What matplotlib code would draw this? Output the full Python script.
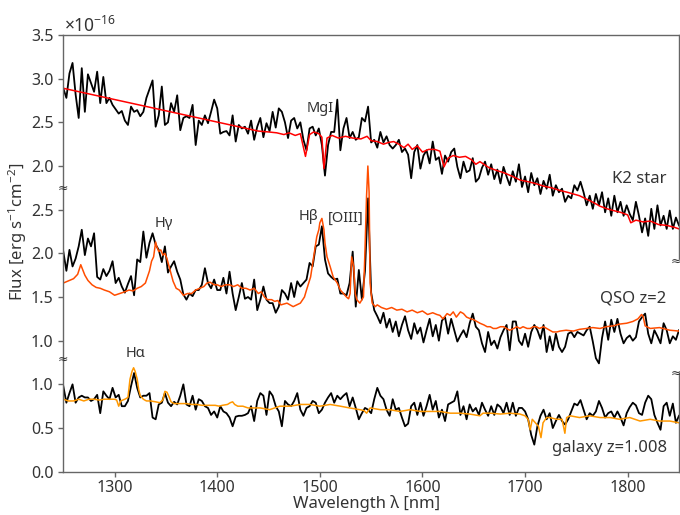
import numpy as np
import matplotlib
matplotlib.use("Agg")
import matplotlib.pyplot as plt

plt.rcParams['font.family'] = ['Noto Sans', 'DejaVu Sans']
plt.rcParams['mathtext.fontset'] = 'custom'
plt.rcParams['mathtext.rm'] = 'Noto Sans'
plt.rcParams['mathtext.it'] = 'Noto Sans:italic'
plt.rcParams['mathtext.bf'] = 'Noto Sans:bold'

# Observed spectra are sampled on a regular grid starting at LAM0 with step DLAM [nm]
LAM0, DLAM = 1250, 3

# ---- K2 star (flux in 1e-16 erg s^-1 cm^-2) ----
star_flux = [
    2.89, 2.78, 3.06, 3.18, 2.82, 2.55, 3.12, 2.62, 3.05, 2.95,
    2.85, 3.08, 2.72, 3.02, 2.72, 2.78, 2.70, 2.65, 2.60, 2.63,
    2.52, 2.47, 2.68, 2.62, 2.64, 2.57, 2.62, 2.78, 2.88, 2.98,
    2.45, 2.58, 2.91, 2.47, 2.50, 2.72, 2.62, 2.81, 2.41, 2.55,
    2.57, 2.55, 2.70, 2.24, 2.52, 2.47, 2.58, 2.49, 2.62, 2.76,
    2.66, 2.37, 2.39, 2.40, 2.35, 2.58, 2.28, 2.47, 2.43, 2.45,
    2.37, 2.52, 2.30, 2.45, 2.55, 2.33, 2.49, 2.40, 2.62, 2.44,
    2.66, 2.62, 2.50, 2.32, 2.52, 2.55, 2.43, 2.50, 2.30, 2.18,
    2.43, 2.45, 2.35, 2.43, 2.24, 1.89, 2.24, 2.39, 2.39, 2.76,
    2.18, 2.43, 2.55, 2.32, 2.39, 2.30, 2.33, 2.55, 2.51, 2.68,
    2.27, 2.30, 2.21, 2.39, 2.27, 2.34, 2.24, 2.20, 2.24, 2.30,
    2.16, 2.20, 2.13, 1.86, 2.16, 2.24, 1.97, 2.12, 2.18, 2.03,
    2.28, 2.07, 2.10, 1.91, 2.12, 2.05, 2.16, 2.20, 1.99, 1.86,
    2.05, 1.93, 1.95, 2.09, 1.82, 1.86, 1.98, 2.05, 1.90, 2.02,
    1.85, 1.96, 1.80, 1.99, 1.88, 1.78, 1.94, 1.82, 2.02, 1.76,
    1.88, 1.70, 1.92, 1.78, 1.86, 1.68, 1.83, 1.74, 1.90, 1.66,
    1.78, 1.70, 1.74, 1.59, 1.66, 1.63, 1.78, 1.72, 1.82, 1.70,
    1.55, 1.66, 1.51, 1.68, 1.55, 1.70, 1.47, 1.63, 1.43, 1.66,
    1.47, 1.59, 1.43, 1.55, 1.45, 1.38, 1.59, 1.43, 1.24, 1.40,
    1.20, 1.51, 1.28, 1.55, 1.32, 1.43, 1.28, 1.49, 1.28, 1.41,
    1.32,
]
star_model_wl = [
    1250, 1440, 1450, 1458, 1465, 1470, 1476, 1481, 1486, 1490,
    1494, 1499, 1502, 1504, 1507, 1512, 1518, 1525, 1532, 1540,
    1546, 1550, 1556, 1562, 1567, 1572, 1577, 1582, 1586, 1590,
    1595, 1600, 1606, 1612, 1617, 1621, 1625, 1630, 1636, 1642,
    1648, 1652, 1656, 1665, 1672, 1680, 1688, 1695, 1703, 1710,
    1718, 1726, 1734, 1741, 1747, 1753, 1760, 1767, 1773, 1780,
    1786, 1793, 1800, 1803, 1808, 1815, 1822, 1830, 1838, 1845,
    1850,
]
star_model = [
    2.89, 2.40, 2.39, 2.38, 2.36, 2.38, 2.35, 2.37, 2.11, 2.36,
    2.39, 2.37, 2.33, 1.97, 2.32, 2.35, 2.32, 2.34, 2.32, 2.31,
    2.34, 2.29, 2.28, 2.25, 2.27, 2.28, 2.25, 2.21, 2.25, 2.19,
    2.23, 2.16, 2.19, 2.19, 2.17, 1.99, 2.09, 2.12, 2.10, 2.11,
    2.07, 2.02, 2.05, 1.98, 1.95, 1.92, 1.88, 1.84, 1.82, 1.80,
    1.77, 1.75, 1.72, 1.70, 1.68, 1.66, 1.62, 1.58, 1.54, 1.51,
    1.49, 1.47, 1.44, 1.35, 1.38, 1.36, 1.37, 1.33, 1.32, 1.30,
    1.28,
]

# ---- QSO z=2 ----
qso_flux = [
    2.02, 1.80, 2.04, 1.85, 1.94, 2.08, 2.27, 1.98, 2.17, 2.08, 2.23, 1.73,
    1.70, 1.82, 1.74, 1.80, 1.91, 1.66, 1.72, 1.62, 1.55, 1.65,
    1.74, 1.52, 1.93, 1.90, 2.25, 1.95, 2.12, 2.23, 2.10, 2.04,
    1.90, 2.08, 1.78, 1.85, 1.91, 1.79, 1.70, 1.53, 1.47, 1.54,
    1.51, 1.58, 1.58, 1.64, 1.83, 1.66, 1.60, 1.70, 1.58, 1.58,
    1.72, 1.54, 1.79, 1.54, 1.35, 1.50, 1.66, 1.48, 1.50, 1.47,
    1.70, 1.35, 1.47, 1.62, 1.47, 1.43, 1.43, 1.32, 1.39,
    1.58, 1.54, 1.47, 1.66, 1.50, 1.68, 1.62, 1.66, 1.70, 1.89,
    1.85, 2.08, 2.10, 2.31, 1.93, 1.77, 1.73, 1.70, 1.71, 1.54,
    1.54, 1.52, 1.66, 2.02, 1.39, 1.81, 1.47, 1.80, 2.63, 1.55,
    1.35, 1.28, 1.20, 1.32, 1.15, 1.25, 1.10, 1.22, 1.05, 1.18,
    1.28, 1.12, 1.02, 1.20, 1.08, 1.15, 0.98, 1.12, 1.25, 1.05,
    1.18, 1.00,
    1.23, 1.27, 1.08, 1.25, 1.12, 0.99, 1.06, 1.12, 1.04, 1.20,
    1.31, 1.16, 1.12, 0.97, 0.87, 1.10, 0.95, 1.00, 0.91, 1.04,
    1.12, 1.18, 0.89, 1.22, 1.22, 1.00, 0.95, 1.08, 0.93, 1.10,
    1.18, 1.12, 1.02, 1.18, 0.87, 1.05, 0.89, 1.08, 0.93, 0.87,
    0.93, 1.08, 1.10, 1.04, 1.10, 1.08, 1.06, 1.12, 1.16, 0.99,
    0.80, 0.74, 1.03, 1.22, 1.01, 1.24, 1.10, 1.25, 1.08, 0.97,
    1.03, 1.06, 1.00, 1.04, 1.22, 1.27, 1.31, 1.08, 0.97, 1.12,
    1.05, 0.97, 1.20, 1.12, 0.97, 1.05, 1.01, 1.12,
]
qso_model_wl = [
    1250, 1256, 1260, 1264, 1267, 1269, 1271, 1274, 1278, 1282,
    1286, 1290, 1295, 1300, 1305, 1310, 1314, 1318, 1322, 1326,
    1330, 1334, 1336, 1338, 1340, 1341, 1343, 1345, 1347, 1349,
    1351, 1354, 1357, 1360, 1363, 1367, 1371, 1375, 1379, 1383,
    1387, 1390, 1393, 1397, 1400, 1404, 1408, 1412, 1416, 1420,
    1424, 1428, 1432, 1436, 1440, 1443, 1446, 1449, 1453, 1456,
    1459, 1462, 1468, 1474, 1481, 1485, 1487, 1491, 1494, 1497,
    1499, 1500, 1502, 1504, 1505, 1507, 1510, 1513, 1517, 1520,
    1523, 1526, 1528, 1529.5, 1531, 1533, 1534.5, 1536, 1539, 1542.5,
    1544, 1545.5, 1546.8, 1548, 1549, 1551, 1554, 1556, 1560, 1565,
    1570, 1575, 1580, 1585, 1590, 1595, 1600, 1605, 1610, 1614,
    1617, 1620, 1624, 1627, 1630, 1633, 1637, 1640, 1643, 1647,
    1650, 1653, 1656, 1660, 1663, 1666, 1669, 1672, 1676, 1679,
    1682, 1685, 1689, 1692, 1695, 1698, 1702, 1705, 1708, 1711,
    1714, 1718, 1721, 1724, 1727, 1731, 1734, 1740, 1747, 1753,
    1760, 1766, 1773, 1779, 1786, 1792, 1799, 1805, 1810, 1813.5,
    1815, 1817, 1822, 1831, 1841, 1850,
]
qso_model = [
    1.66, 1.69, 1.71, 1.76, 1.87, 1.81, 1.75, 1.69, 1.64, 1.61,
    1.60, 1.58, 1.56, 1.52, 1.54, 1.56, 1.58, 1.57, 1.60, 1.62,
    1.66, 1.80, 1.91, 1.96, 2.13, 2.08, 2.02, 2.04, 1.98, 2.00,
    1.94, 1.81, 1.68, 1.60, 1.58, 1.52, 1.54, 1.54, 1.58, 1.60,
    1.62, 1.66, 1.67, 1.64, 1.64, 1.62, 1.64, 1.64, 1.62, 1.64,
    1.60, 1.60, 1.58, 1.60, 1.54, 1.56, 1.50, 1.47, 1.47, 1.45,
    1.46, 1.41, 1.43, 1.39, 1.43, 1.50, 1.58, 1.73, 1.96, 2.19,
    2.27, 2.35, 2.40, 2.27, 2.12, 1.96, 1.85, 1.73, 1.66, 1.58,
    1.54, 1.50, 1.48, 1.54, 1.96, 1.85, 1.54, 1.47, 1.43, 1.50,
    2.04, 2.65, 3.00, 2.70, 1.66, 1.43, 1.39, 1.41, 1.38, 1.36,
    1.38, 1.35, 1.36, 1.33, 1.35, 1.32, 1.34, 1.30, 1.32, 1.30,
    1.29, 1.25, 1.31, 1.29, 1.33, 1.27, 1.33, 1.31, 1.27, 1.25,
    1.24, 1.22, 1.20, 1.18, 1.16, 1.16, 1.14, 1.14, 1.16, 1.16,
    1.14, 1.12, 1.14, 1.16, 1.14, 1.16, 1.14, 1.14, 1.16, 1.16,
    1.14, 1.16, 1.14, 1.12, 1.10, 1.10, 1.11, 1.12, 1.11, 1.13,
    1.14, 1.15, 1.14, 1.16, 1.17, 1.19, 1.20, 1.22, 1.25, 1.30,
    1.28, 1.17, 1.14, 1.15, 1.12, 1.11,
]

# ---- galaxy z=1.008 ----
gal_flux = [
    0.98, 0.79, 0.90, 1.00, 0.79, 0.85, 0.87, 0.85, 0.85, 0.81,
    0.83, 0.88, 0.67, 0.92, 0.87, 0.83, 0.96, 0.85, 0.88, 0.75,
    0.75, 0.81, 0.98, 1.13, 0.96, 0.85, 0.87, 0.87, 0.90, 0.62,
    0.60, 0.77, 0.79, 0.90, 0.79, 0.75, 0.80, 0.77, 0.87, 1.00,
    0.77, 0.75, 0.87, 0.71, 0.83, 0.81, 0.75, 0.73, 0.65, 0.69,
    0.62, 0.75, 0.69, 0.67, 0.62, 0.52, 0.63, 0.64, 0.64, 0.65,
    0.67,
    0.75, 0.58, 0.81, 0.90, 0.87, 0.65, 0.92, 0.87, 0.75, 0.69,
    0.52, 0.81, 0.77, 0.75, 0.81, 0.90, 0.71, 0.64, 0.73, 0.75,
    0.81, 0.79, 0.67, 0.71, 0.79, 0.85, 0.90, 0.79, 0.87, 0.83,
    0.87, 0.90, 0.75, 0.85, 0.73, 0.60, 0.67, 0.73, 0.71, 0.67,
    0.83, 0.96, 0.87, 0.83, 0.71, 0.64, 0.83, 0.71, 0.73, 0.62,
    0.52, 0.55, 0.75, 0.79, 0.65, 0.79, 0.64, 0.75, 0.88, 0.71,
    0.81, 0.62, 0.71, 0.58, 0.77, 0.79, 0.81, 0.92, 0.65, 0.75,
    0.60, 0.77, 0.69, 0.73, 0.65, 0.79, 0.71, 0.64, 0.75, 0.65,
    0.77, 0.74, 0.67, 0.79, 0.65, 0.79, 0.64, 0.73, 0.73, 0.69,
    0.60, 0.42, 0.31, 0.52, 0.64, 0.71, 0.60, 0.67, 0.50, 0.58,
    0.65, 0.58, 0.54, 0.60, 0.69, 0.78, 0.76, 0.82, 0.71, 0.60,
    0.67, 0.64, 0.69, 0.81, 0.73, 0.62, 0.67, 0.69, 0.62, 0.69,
    0.62, 0.53, 0.67, 0.74, 0.79, 0.76, 0.67, 0.65, 0.79, 0.87,
    0.83, 0.65, 0.56, 0.48, 0.75, 0.79, 0.64, 0.78, 0.56, 0.64,
]
gal_model_wl = [
    1250, 1255, 1260, 1265, 1270, 1275, 1280, 1285, 1290, 1295,
    1300, 1302, 1304, 1306, 1310, 1313, 1315, 1317, 1318.5, 1320,
    1322, 1323.5, 1325, 1328, 1331, 1335, 1340, 1344, 1347, 1349,
    1351, 1353, 1355, 1358, 1365, 1370, 1375, 1380, 1385, 1390,
    1395, 1398, 1402, 1405, 1410, 1412.7, 1415, 1417, 1420, 1425,
    1430, 1436, 1442, 1451, 1461, 1471, 1481, 1490, 1500, 1510,
    1520, 1529, 1539, 1543, 1545.6, 1549, 1559, 1568, 1578, 1588,
    1598, 1607, 1617, 1627, 1637, 1646, 1656, 1659, 1666, 1676,
    1685, 1695, 1700, 1703, 1705, 1707, 1710, 1713, 1715.5, 1717.5,
    1721, 1724, 1731, 1736, 1738.8, 1740.5, 1744, 1753, 1763, 1773,
    1783, 1792, 1802, 1812, 1822, 1831, 1841, 1850,
]
gal_model = [
    0.83, 0.81, 0.81, 0.83, 0.81, 0.83, 0.83, 0.82, 0.83, 0.83,
    0.83, 0.82, 0.75, 0.81, 0.83, 0.85, 1.06, 1.15, 1.19, 1.15,
    1.06, 0.94, 0.87, 0.83, 0.81, 0.81, 0.80, 0.79, 0.82, 0.92,
    0.91, 0.86, 0.80, 0.78, 0.78, 0.78, 0.77, 0.77, 0.76, 0.76,
    0.76, 0.76, 0.75, 0.76, 0.77, 0.79, 0.80, 0.77, 0.75, 0.75,
    0.73, 0.73, 0.73, 0.71, 0.75, 0.75, 0.77, 0.77, 0.75, 0.77,
    0.75, 0.73, 0.71, 0.70, 0.67, 0.73, 0.71, 0.71, 0.69, 0.71,
    0.69, 0.69, 0.69, 0.67, 0.67, 0.66, 0.64, 0.67, 0.67, 0.66,
    0.67, 0.66, 0.64, 0.60, 0.48, 0.60, 0.56, 0.52, 0.39, 0.56,
    0.62, 0.62, 0.60, 0.60, 0.44, 0.62, 0.64, 0.62, 0.64, 0.62,
    0.62, 0.60, 0.62, 0.58, 0.60, 0.58, 0.58, 0.56,
]

x_ticks = [1300, 1400, 1500, 1600, 1700, 1800]
star_yticks = [2.0, 2.5, 3.0, 3.5]
qso_yticks = [1.0, 1.5, 2.0, 2.5]
gal_yticks = [0.0, 0.5, 1.0]

TEXT = '#333333'
SPINE = '#666666'
FS_TICK = 11.5
FS_LABEL = 12
FS_LINE = 10.5

fig = plt.figure(figsize=(6.8, 5.15), dpi=100)
rect = [63.3 / 680, (515 - 471.7) / 515, (679 - 63.3) / 680, (471.7 - 35) / 515]
ax_bot = fig.add_axes(rect)
ax_mid = fig.add_axes(rect, sharex=ax_bot)
ax_top = fig.add_axes(rect, sharex=ax_bot)

def grid(flux):
    return LAM0 + DLAM * np.arange(len(flux))

# three stacked spectra sharing one wavelength axis, each with its own flux scale
ax_top.plot(grid(star_flux), star_flux, color='black', lw=1.3)
ax_top.plot(star_model_wl, star_model, color='#ff0000', lw=1.1)
ax_mid.plot(grid(qso_flux), qso_flux, color='black', lw=1.3)
ax_mid.plot(qso_model_wl, qso_model, color='#ff4d00', lw=1.1)
ax_bot.plot(grid(gal_flux), gal_flux, color='black', lw=1.3)
ax_bot.plot(gal_model_wl, gal_model, color='#ff9800', lw=1.1)

ax_top.set_ylim(-1.5, 3.5)
ax_mid.set_ylim(-0.5, 4.5)
ax_bot.set_ylim(0.0, 5.0)
ax_bot.set_xlim(1250, 1850)

for ax, ticks in ((ax_top, star_yticks), (ax_mid, qso_yticks), (ax_bot, gal_yticks)):
    ax.set_facecolor('none')
    for s in ax.spines.values():
        s.set_color(SPINE)
        s.set_linewidth(1.0)
    ax.set_yticks(ticks)
    ax.set_yticklabels([f'{t:.1f}' for t in ticks])
    ax.tick_params(axis='both', direction='out', length=3.5, width=1.0,
                   color=SPINE, labelcolor=TEXT, labelsize=FS_TICK)

ax_top.spines['bottom'].set_visible(False)
ax_top.spines['left'].set_bounds(1.75, 3.5)
ax_top.spines['right'].set_bounds(0.95, 3.5)
ax_top.tick_params(axis='x', bottom=False, labelbottom=False)

for side in ('top', 'bottom', 'right'):
    ax_mid.spines[side].set_visible(False)
ax_mid.spines['left'].set_bounds(0.777, 2.747)
ax_mid.tick_params(axis='x', bottom=False, labelbottom=False)

ax_bot.spines['top'].set_visible(False)
ax_bot.spines['left'].set_bounds(0.0, 1.288)
ax_bot.spines['right'].set_bounds(0.0, 1.127)
ax_bot.set_xticks(x_ticks)
ax_bot.tick_params(axis='x', pad=2.5)
ax_bot.set_xlabel('Wavelength λ [nm]', fontsize=FS_LABEL, color=TEXT)
ax_bot.xaxis.set_label_coords(0.492, -31.5 / 436.7, transform=ax_bot.transAxes)
ax_bot.xaxis.label.set_va('center')

# axis-break marks
for px, py in ((63.3, 188.3), (63.3, 359.3), (675.5, 261.7), (675.5, 373.3)):
    fig.text(px / 680, 1 - py / 515, '≈', fontsize=9, color=TEXT,
             ha='center', va='center')

fig.text(18 / 680, 1 - 232 / 515, 'Flux [erg s$^{-1}$cm$^{-2}$]', rotation=90,
         fontsize=FS_LABEL, color=TEXT, ha='center', va='center')
fig.text(64 / 680, 1 - 31.5 / 515, r'$\times10^{-16}$', fontsize=12.5,
         color=TEXT, ha='left', va='baseline')

# object names
ax_top.text(1838, 1.80, 'K2 star', fontsize=FS_LABEL, color=TEXT, ha='right', va='baseline')
ax_mid.text(1838, 1.434, 'QSO z=2', fontsize=FS_LABEL, color=TEXT, ha='right', va='baseline')
ax_bot.text(1838, 0.229, 'galaxy z=1.008', fontsize=FS_LABEL, color=TEXT, ha='right', va='baseline')

# spectral features
ax_top.text(1500, 2.62, 'MgI', fontsize=FS_LINE, color=TEXT, ha='center', va='baseline')
ax_mid.text(1348, 2.304, 'Hγ', fontsize=FS_LINE, color=TEXT, ha='center', va='baseline')
ax_mid.text(1488.5, 2.381, 'Hβ', fontsize=FS_LINE, color=TEXT, ha='center', va='baseline')
ax_mid.text(1525.5, 2.36, '[OIII]', fontsize=FS_LINE, color=TEXT, ha='center', va='baseline')
ax_bot.text(1320, 1.317, 'Hα', fontsize=FS_LINE, color=TEXT, ha='center', va='baseline')

fig.savefig('out.png', dpi=100)
